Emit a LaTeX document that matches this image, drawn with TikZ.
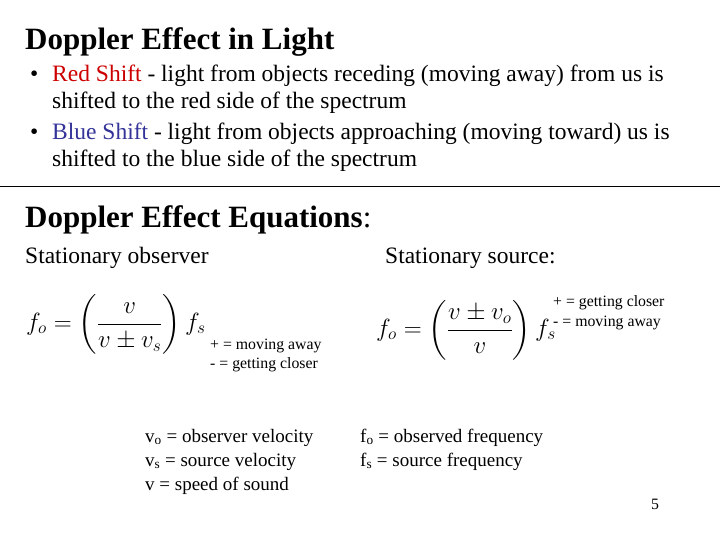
\documentclass[tikz,border=0pt]{standalone}
\usepackage{amsmath}
\usepackage{fontspec}
\setmainfont{Liberation Serif}
\definecolor{rs}{RGB}{204,0,0}
\definecolor{bs}{RGB}{51,51,153}
\begin{document}
\begin{tikzpicture}[x=1pt,y=-1pt,
 txt/.style={anchor=base west,inner sep=0pt,font=\fontsize{23.5}{26}\selectfont},
 sm/.style={anchor=base west,inner sep=0pt,font=\fontsize{15.8}{18}\selectfont},
 lst/.style={anchor=base west,inner sep=0pt,font=\fontsize{19}{22}\selectfont},
 ttl/.style={anchor=base west,inner sep=0pt,font=\fontsize{31}{34}\selectfont\bfseries},
 eq/.style={inner sep=0pt,font=\fontsize{24}{28}\selectfont}]
\useasboundingbox (0,0) rectangle (720,540);
\node[ttl] (t1) at (25,50) {Doppler Effect in Light};
\node[txt] (b1) at (30,82) {•};
\node[txt] (l1) at (52,82) {\textcolor{rs}{Red Shift} - light from objects receding (moving away) from us is};
\node[txt] (l2) at (52,109) {shifted to the red side of the spectrum};
\node[txt] (b2) at (30,140) {•};
\node[txt] (l3) at (52,140) {\textcolor{bs}{Blue Shift} - light from objects approaching (moving toward) us is};
\node[txt] (l4) at (52,167) {shifted to the blue side of the spectrum};
\draw[line width=0.8pt] (0,186) -- (720,186);
\node[ttl] (t2) at (25,228) {Doppler Effect Equations\textmd{:}};
\node[txt] (so) at (25,263) {Stationary observer};
\node[txt] (ss) at (385,263) {Stationary source:};
\node[eq,anchor=west] (e1) at (26,324) {$f_o=\left(\dfrac{v}{v\pm v_s}\right)f_s$};
\node[eq,anchor=west] (e2) at (376,330) {$f_o=\left(\dfrac{v\pm v_o}{v}\right)f_s$};
\node[sm] (p1) at (553,306) {+ = getting closer};
\node[sm] (m1) at (553,326) {- = moving away};
\node[sm] (p2) at (210,349) {+ = moving away};
\node[sm] (m2) at (210,368) {- = getting closer};
\node[lst] (d1) at (145,442) {v\textsubscript{o} = observer velocity};
\node[lst] (d2) at (145,466) {v\textsubscript{s} = source velocity};
\node[lst] (d3) at (145,490) {v = speed of sound};
\node[lst] (d4) at (360,442) {f\textsubscript{o} = observed frequency};
\node[lst] (d5) at (360,466) {f\textsubscript{s} = source frequency};
\node[sm] (pg) at (651,509) {5};
\end{tikzpicture}
\end{document}
